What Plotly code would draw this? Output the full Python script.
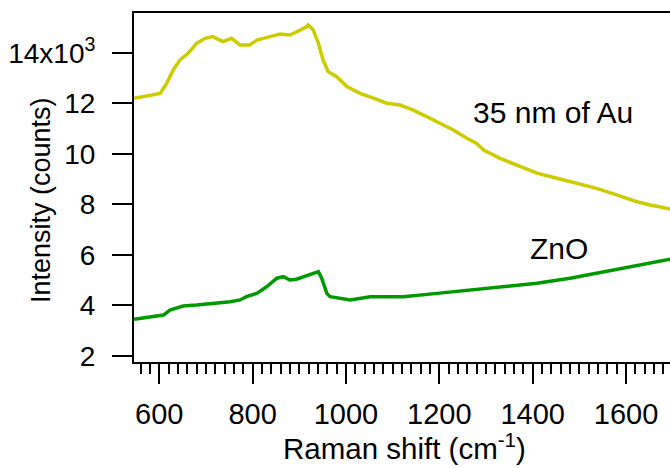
import plotly.graph_objects as go

# Raman shift (cm^-1) and intensity (counts)
au_x = [546, 560, 580, 602, 616, 630, 644, 662, 680, 698, 715, 736, 755, 773, 794, 809, 837,
        859, 880, 902, 916, 919, 930, 941, 951, 962, 980, 1002, 1030, 1059, 1087, 1116,
        1144, 1173, 1202, 1230, 1259, 1280, 1295, 1330, 1366, 1409, 1452, 1494, 1537,
        1580, 1623, 1652, 1687, 1700]
au_y = [12210, 12250, 12340, 12400, 12800, 13330, 13720, 13990, 14380, 14580, 14650, 14450,
        14580, 14320, 14320, 14510, 14650, 14750, 14710, 14910, 15040, 15110, 14910,
        14380, 13720, 13260, 13060, 12670, 12400, 12210, 12010, 11940, 11740, 11480,
        11220, 10950, 10620, 10420, 10160, 9830, 9560, 9240, 9040, 8840, 8640, 8380,
        8110, 7980, 7850, 7800]

zno_x = [546, 580, 609, 623, 651, 680, 709, 730, 752, 773, 787, 809, 830, 852, 866,
         880, 894, 916, 934, 941, 948, 959, 966, 1009, 1052, 1123, 1195, 1266, 1337,
         1409, 1480, 1552, 1623, 1687, 1700]
zno_y = [3450, 3530, 3620, 3820, 3980, 4020, 4090, 4110, 4150, 4220, 4350, 4480, 4740,
         5080, 5140, 5010, 5040, 5170, 5300, 5340, 5080, 4480, 4350, 4220, 4350, 4350,
         4480, 4610, 4740, 4880, 5080, 5340, 5600, 5800, 5850]

y_tickvals = [2000, 4000, 6000, 8000, 10000, 12000, 14000]
y_ticktext = ["2", "4", "6", "8", "10", "12", "14x10<sup>3</sup>"]
x_tickvals = [600, 800, 1000, 1200, 1400, 1600]

FONT = "Arial, Liberation Sans, sans-serif"

fig = go.Figure()
fig.add_trace(go.Scatter(x=au_x, y=au_y, mode="lines",
                         line=dict(color="rgb(204,204,0)", width=3.5), showlegend=False))
fig.add_trace(go.Scatter(x=zno_x, y=zno_y, mode="lines",
                         line=dict(color="rgb(0,153,0)", width=3.5), showlegend=False))

fig.add_annotation(x=1267, y=11660, text="35 nm of Au", showarrow=False,
                   xanchor="left", yanchor="middle", font=dict(size=30, color="black", family=FONT))
fig.add_annotation(x=1389, y=6240, text="ZnO", showarrow=False,
                   xanchor="left", yanchor="middle", font=dict(size=30, color="black", family=FONT))

# axis titles as annotations for exact placement
fig.add_annotation(xref="paper", yref="paper", x=(404 - 134) / 536, y=-(446 - 362) / 349,
                   text="Raman shift (cm<sup>-1</sup>)", showarrow=False,
                   xanchor="center", yanchor="middle", font=dict(size=29.5, color="black", family=FONT))
fig.add_annotation(xref="paper", yref="paper", x=-(134 - 41) / 536, y=(362 - 200) / 349,
                   text="Intensity (counts)", showarrow=False, textangle=-90,
                   xanchor="center", yanchor="middle", font=dict(size=27, color="black", family=FONT))

fig.update_layout(
    width=670, height=468,
    margin=dict(l=134, r=0, t=13, b=106),
    paper_bgcolor="white", plot_bgcolor="white",
    font=dict(family=FONT, color="black"),
    xaxis=dict(range=[546, 1694], tickvals=x_tickvals, ticks="outside", ticklen=20,
               tickwidth=2, tickcolor="black", showline=True, linecolor="black",
               linewidth=2, mirror=True, showgrid=False, zeroline=False,
               tickfont=dict(size=29), ticklabelstandoff=5,
               minor=dict(dtick=20, tick0=0, ticks="outside", ticklen=10,
                          tickwidth=1.5, tickcolor="black", showgrid=False)),
    yaxis=dict(range=[1762, 15584], tickvals=y_tickvals, ticktext=y_ticktext,
               ticks="outside", ticklen=20, tickwidth=2, tickcolor="black",
               showline=True, linecolor="black", linewidth=2, mirror=False,
               showgrid=False, zeroline=False, tickfont=dict(size=28),
               ticklabelstandoff=11),
)

fig.write_html("out.html")
